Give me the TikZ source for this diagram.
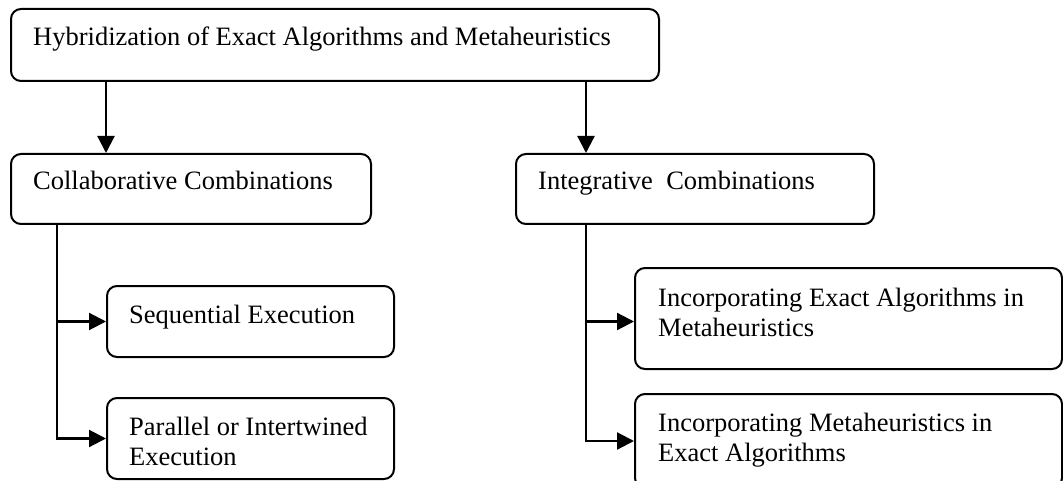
\documentclass[tikz,border=0pt]{standalone}
\usepackage{fontspec}
\setmainfont{Liberation Serif}
\usetikzlibrary{arrows.meta}
\begin{document}
\begin{tikzpicture}[x=1pt,y=-1pt,
  box/.style={draw, line width=2pt, rounded corners=10pt, anchor=north west, inner sep=0pt},
  lbl/.style={anchor=base west, inner sep=0pt, align=left, font=\fontsize{26.5}{30}\selectfont},
  conn/.style={line width=2.2pt},
  arr/.style={conn, -{Triangle[length=17pt,width=17pt]}}]
\useasboundingbox (0,0) rectangle (1063,481);
\clip (0,0) rectangle (1063,481);
% boxes
\node[box, minimum width=648pt, minimum height=72pt] (top) at (10,8) {};
\node[box, minimum width=360pt, minimum height=70pt] (collab) at (10,153) {};
\node[box, minimum width=358pt, minimum height=70pt] (integ) at (515,153) {};
\node[box, minimum width=287pt, minimum height=71pt] (seq) at (106,285) {};
\node[box, minimum width=287pt, minimum height=81pt] (par) at (106,397) {};
\node[box, minimum width=427pt, minimum height=101pt] (inc1) at (634,267) {};
\node[box, minimum width=427pt, minimum height=94pt] (inc2) at (634,393) {};
% texts (base anchor = last line)
\node[lbl] (tTop) at (33,46) {Hybridization of Exact Algorithms and Metaheuristics};
\node[lbl] (tCol) at (33,190) {Collaborative Combinations};
\node[lbl] (tInt) at (538,190) {Integrative\ \ Combinations};
\node[lbl] (tSeq) at (129,323) {Sequential Execution};
\node[lbl] (tPar) at (129,465) {Parallel or Intertwined\\Execution};
\node[lbl] (tInc1) at (658,336) {Incorporating Exact Algorithms in\\Metaheuristics};
\node[lbl] (tInc2) at (658,461) {Incorporating Metaheuristics in\\Exact Algorithms};
% connectors
\coordinate (jl) at (57,0);
\coordinate (jr) at (586,0);
\draw[arr] (top.south -| seq.west) -- (collab.north -| seq.west);
\draw[arr] (top.south -| jr) -- (integ.north -| jr);
\draw[arr] (collab.south -| jl) |- (par.west);
\draw[arr] (jl |- seq.west) -- (seq.west);
\draw[arr] (integ.south -| jr) |- (inc2.west);
\draw[arr] (jr |- seq.west) -- (seq.west -| inc1.west);
\end{tikzpicture}
\end{document}
